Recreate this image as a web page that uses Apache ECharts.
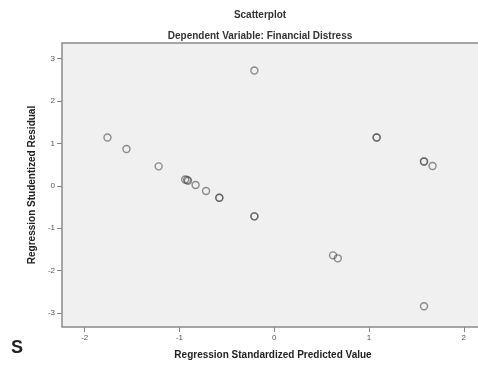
<!DOCTYPE html>
<html>
<head>
<meta charset="utf-8">
<script src="https://cdn.jsdelivr.net/npm/echarts@6/dist/echarts.min.js"></script>
<style>
  html, body { margin: 0; padding: 0; background: #fff; overflow: hidden; }
  #chart { width: 484px; height: 365px; }
</style>
</head>
<body>
<div id="chart"></div>
<script>
// standardized predicted value (x) and studentized residual (y)
var predicted = [-0.21, -1.76, -1.56, -1.22, -0.94, -0.92, -0.91, -0.83, -0.72, -0.58, -0.58,
                 -0.21, -0.21, 1.08, 1.08, 1.58, 1.58, 1.67, 0.62, 0.67, 1.58];
var residual  = [2.72, 1.14, 0.87, 0.46, 0.15, 0.14, 0.12, 0.02, -0.12, -0.28, -0.28,
                 -0.72, -0.72, 1.14, 1.14, 0.575, 0.575, 0.47, -1.64, -1.71, -2.84];
var xTicks = [-2, -1, 0, 1, 2];
var yTicks = [-3, -2, -1, 0, 1, 2, 3];

var points = predicted.map(function (v, i) { return [v, residual[i]]; });

// page is clipped at 478px so the plot frame runs off the right edge like the source image
var chart = echarts.init(document.getElementById('chart'));
var axisText = { color: '#555', fontSize: 8, fontFamily: 'Arial' };

var option = {
    animation: false,
    title: [{
        text: 'Scatterplot',
        left: 255, top: 5,
        textAlign: 'center',
        textStyle: { fontSize: 10, fontWeight: 'bold', color: '#333', fontFamily: 'Arial' }
    }, {
        text: 'Dependent Variable: Financial Distress',
        left: 255, top: 26,
        textAlign: 'center',
        textStyle: { fontSize: 10, fontWeight: 'bold', color: '#333', fontFamily: 'Arial' }
    }],
    grid: {
        left: 62, top: 43, right: 0, bottom: 38,
        show: true,
        backgroundColor: '#f0f0f0',
        borderColor: '#8a8a8a',
        borderWidth: 1.5
    },
    xAxis: {
        type: 'value',
        min: -2.24, max: 2.213,
        name: 'Regression Standardized Predicted Value',
        nameLocation: 'middle',
        nameGap: 23,
        nameTextStyle: { fontSize: 10, fontWeight: 'bold', color: '#222', fontFamily: 'Arial' },
        axisLine: { show: false, onZero: false },
        splitLine: { show: false },
        axisTick: { show: true, length: 5, lineStyle: { color: '#888' }, customValues: xTicks },
        axisLabel: Object.assign({ margin: 7, customValues: xTicks }, axisText)
    },
    yAxis: {
        type: 'value',
        min: -3.33, max: 3.37,
        name: 'Regression Studentized Residual',
        nameLocation: 'middle',
        nameGap: 19,
        nameTextStyle: { fontSize: 10, fontWeight: 'bold', color: '#222', fontFamily: 'Arial' },
        axisLine: { show: false, onZero: false },
        splitLine: { show: false },
        axisTick: { show: true, length: 5, lineStyle: { color: '#888' }, customValues: yTicks },
        axisLabel: Object.assign({ margin: 7, customValues: yTicks }, axisText)
    },
    graphic: [{
        type: 'text',
        left: 11, top: 339,
        style: { text: 'S', fontSize: 18, fontWeight: 'bold', fill: '#222', fontFamily: 'Arial' }
    }],
    series: [{
        type: 'scatter',
        data: points,
        symbol: 'circle',
        symbolSize: 7,
        itemStyle: {
            color: 'rgba(0,0,0,0)',
            borderColor: 'rgba(70,70,70,0.75)',
            borderWidth: 1.4
        }
    }]
};

chart.setOption(option);
window.addEventListener('resize', function () {
    chart.resize();
});
</script>
</body>
</html>
